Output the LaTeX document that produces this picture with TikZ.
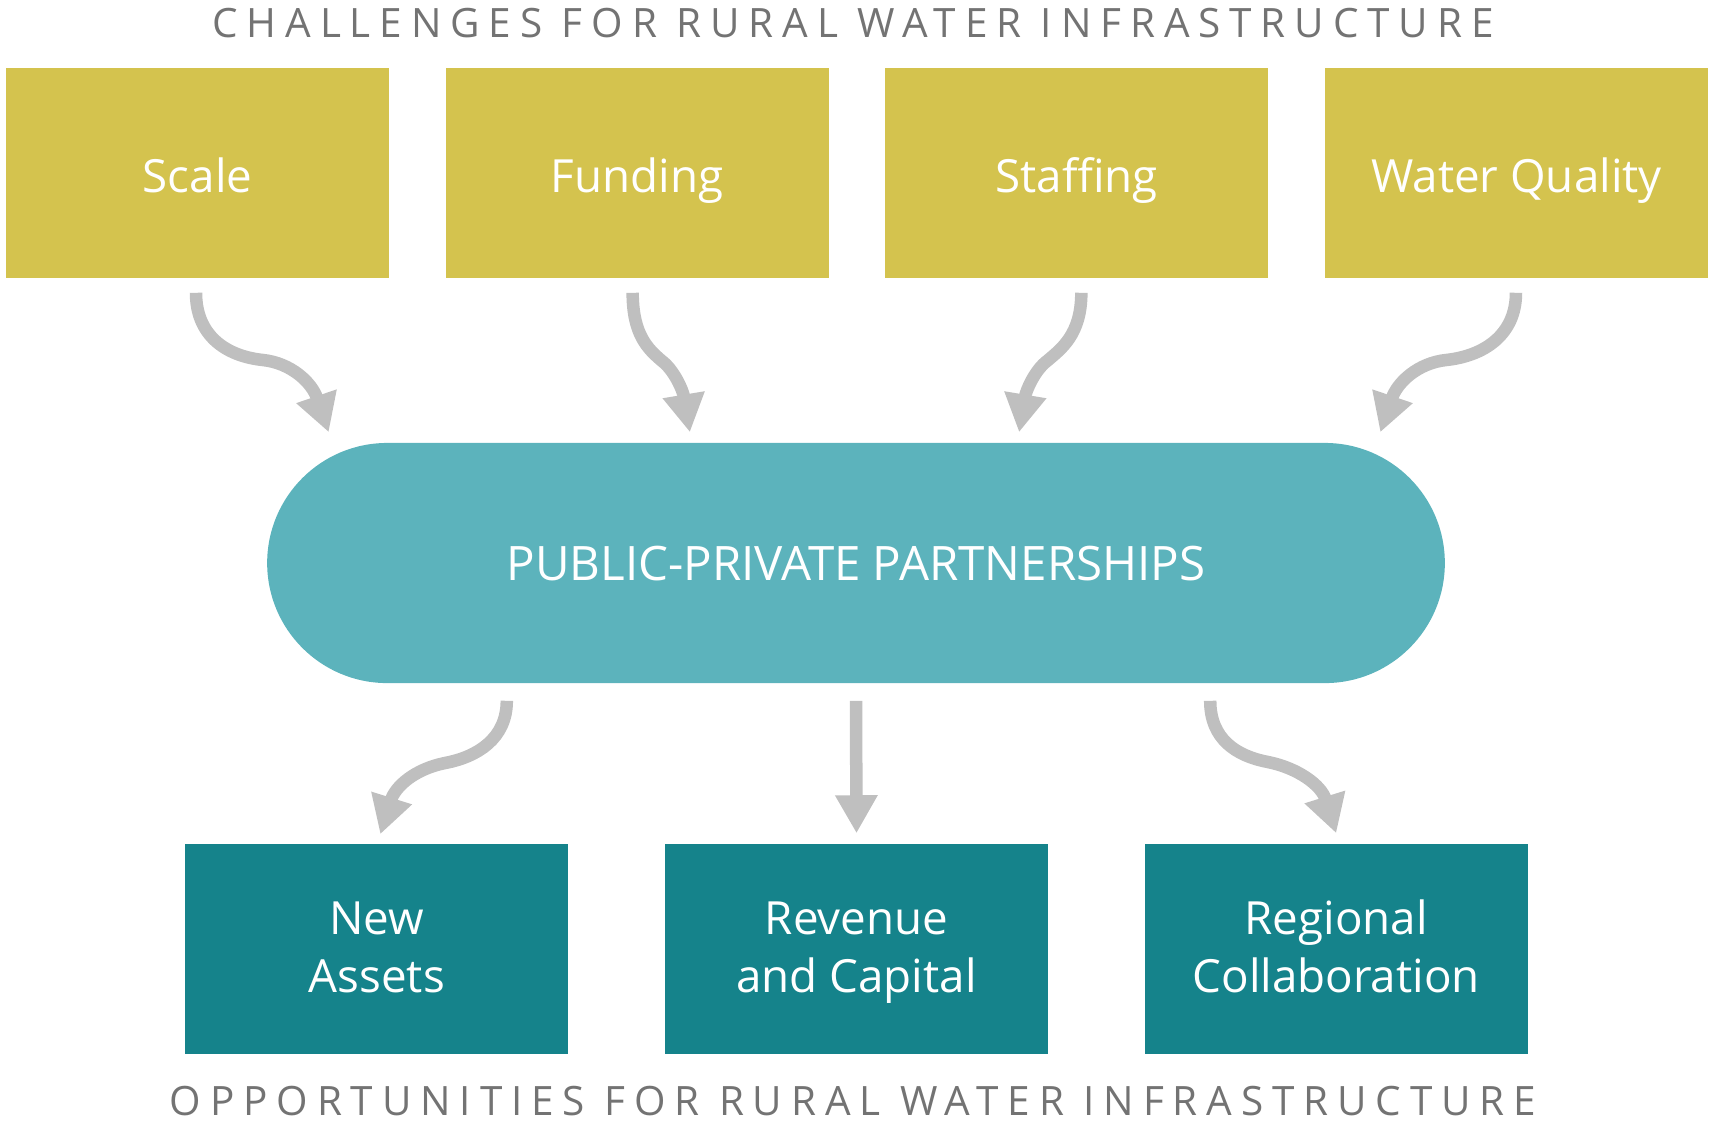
\documentclass[tikz,border=0pt]{standalone}
\usepackage{fontspec}
\setmainfont{Open Sans}
\newfontfamily\headingfont[LetterSpace=22]{Open Sans}
\usetikzlibrary{arrows.meta,positioning}

\definecolor{chalgold}{RGB}{212,195,78}
\definecolor{pppteal}{RGB}{92,179,188}
\definecolor{oppteal}{RGB}{21,131,139}
\definecolor{flowgray}{RGB}{191,191,191}
\definecolor{headgray}{RGB}{115,115,115}

\tikzset{
  challenge/.style={fill=chalgold, text=white, minimum width=3.83cm, minimum height=2.10cm,
    text height=11pt, text depth=0pt, font=\fontsize{13}{16.5}\selectfont},
  opportunity/.style={fill=oppteal, text=white, minimum width=3.83cm, minimum height=2.10cm,
    align=center, text height=25pt, text depth=0pt, font=\fontsize{13}{16.5}\selectfont},
  partnership/.style={fill=pppteal, text=white, minimum width=11.77cm, minimum height=2.40cm,
    rounded corners=1.2cm, text height=9.7pt, text depth=0pt, font=\fontsize{13.5}{16}\selectfont},
  heading/.style={text=headgray, anchor=base, font=\headingfont\fontsize{11.5}{14}\selectfont},
  flow/.style={draw=flowgray, line width=0.125cm, -{Triangle[width=0.40cm,length=0.38cm]}}
}

\begin{document}
\begin{tikzpicture}[x=0.01cm, y=-0.01cm]
  \useasboundingbox (0,0) rectangle (1712,1123);

  % challenges
  \node[heading] (chtitle) at (853,37) {CHALLENGES FOR RURAL WATER INFRASTRUCTURE};
  \node[challenge] (scale) at (197.5,173) {Scale};
  \node[challenge, right=0.55cm of scale] (funding) {Funding};
  \node[challenge, right=0.55cm of funding] (staffing) {Staffing};
  \node[challenge, right=0.55cm of staffing] (quality) {Water Quality};

  % partnerships
  \node[partnership] (ppp) at (856,563) {PUBLIC-PRIVATE PARTNERSHIPS};

  % opportunities
  \node[opportunity] (revenue) at (856.5,949) {Revenue\\and Capital};
  \node[opportunity, left=0.95cm of revenue] (assets) {New\\Assets};
  \node[opportunity, right=0.95cm of revenue] (regional) {Regional\\Collaboration};
  \node[heading] (optitle) at (853,1115) {OPPORTUNITIES FOR RURAL WATER INFRASTRUCTURE};

  % arrows into the partnership
  \draw[flow] ([xshift=-0.015cm,yshift=-0.14cm]scale.south)
    .. controls +(0,42) and +(-38,-4) .. (263,360)
    .. controls +(28,3) and +(-17,-50) .. ([xshift=-5.27cm,yshift=0.10cm]ppp.north);
  \draw[flow] ([xshift=-0.045cm,yshift=-0.14cm]funding.south)
    .. controls +(0,42) and +(-14,-12) .. (662,361)
    .. controls +(12,9) and +(-7,-42) .. ([xshift=-1.66cm,yshift=0.10cm]ppp.north);
  \draw[flow] ([xshift=0.045cm,yshift=-0.14cm]staffing.south)
    .. controls +(0,42) and +(14,-12) .. (1047,361)
    .. controls +(-12,9) and +(7,-42) .. ([xshift=1.63cm,yshift=0.10cm]ppp.north);
  \draw[flow] ([xshift=-0.005cm,yshift=-0.14cm]quality.south)
    .. controls +(0,42) and +(38,-4) .. (1446,360)
    .. controls +(-28,3) and +(17,-50) .. ([xshift=5.24cm,yshift=0.10cm]ppp.north);

  % arrows out of the partnership
  \draw[flow] ([xshift=-3.49cm,yshift=-0.17cm]ppp.south)
    .. controls +(0,38) and +(32,-6) .. (445,763)
    .. controls +(-30,6) and +(15,-48) .. ([xshift=0.035cm,yshift=0.09cm]assets.north);
  \draw[flow] ([yshift=-0.17cm]ppp.south) -- ([yshift=0.10cm]revenue.north);
  \draw[flow] ([xshift=3.54cm,yshift=-0.17cm]ppp.south)
    .. controls +(0,38) and +(-32,-6) .. (1268,762)
    .. controls +(30,6) and +(-15,-48) .. ([yshift=0.10cm]regional.north);
\end{tikzpicture}
\end{document}
